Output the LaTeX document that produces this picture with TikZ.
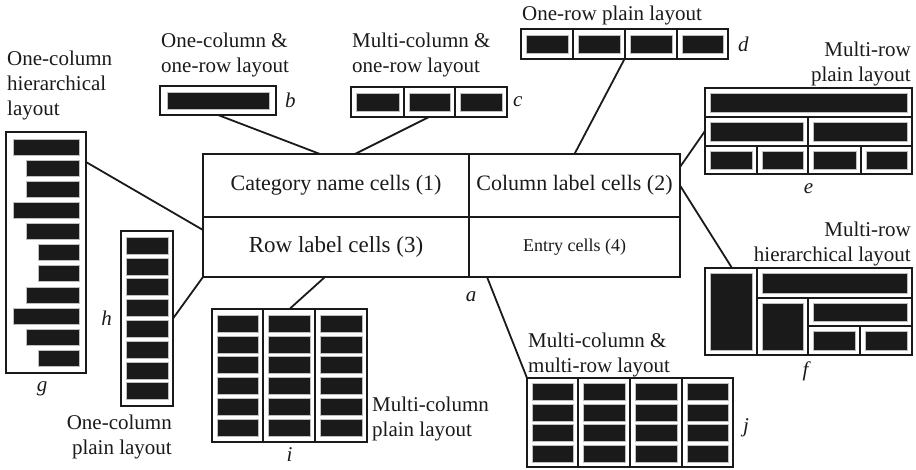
\documentclass[tikz,border=0pt]{standalone}
\usepackage{fontspec}
\setmainfont{Liberation Serif}
\usetikzlibrary{positioning}
\definecolor{Ink}{HTML}{1A1A1A}
\tikzset{
    cell/.style={draw=Ink, line width=1.9pt, inner sep=0pt, outer sep=0pt, align=center, text=Ink},
    frame/.style={draw=Ink, line width=1.9pt, inner sep=0pt, outer sep=0pt, anchor=north west},
    rule/.style={draw=Ink, line width=1.9pt},
    bar/.style={fill=Ink, draw=gray!50, line width=0.5pt},
    link/.style={draw=Ink, line width=1.8pt},
    caption/.style={font=\fontsize{21}{25}\selectfont, align=left, inner sep=1pt, text=Ink},
    tag/.style={font=\fontsize{21}{25}\selectfont\itshape, inner sep=1pt, text=Ink},
}

\begin{document}
\begin{tikzpicture}[x=1pt, y=-1pt]
    \useasboundingbox (0,0) rectangle (916,470);

    % central table (a)
    \node[cell, minimum width=266pt, minimum height=63pt, font=\fontsize{22}{26}\selectfont] (cat) at (336,185.5) {Category name cells (1)};
    \node[cell, minimum width=211pt, minimum height=63pt, font=\fontsize{22}{26}\selectfont] (col) at (574.5,185.5) {Column label cells (2)};
    \node[cell, minimum width=266pt, minimum height=60pt, font=\fontsize{23}{27}\selectfont] (row) at (336,247) {Row label cells (3)};
    \node[cell, minimum width=211pt, minimum height=60pt, font=\fontsize{18}{22}\selectfont] (entry) at (574.5,247) {Entry cells (4)};
    \node[tag, below=13pt of row.south east, xshift=2pt] (a) {a};

    % b: one-column & one-row
    \node[frame, minimum width=116pt, minimum height=29pt] (bbox) at (160,86) {};
    \draw[bar] (167,92) rectangle (269,109);
    \node[tag, right=8pt of bbox] (b) {b};
    \node[caption, above=8pt of bbox.north west, anchor=south west] (bcap) {One-column \&\\one-row layout};

    % c: multi-column & one-row
    \node[frame, minimum width=156pt, minimum height=30pt] (cbox) at (351,87) {};
    \foreach \xa/\xb in {351/404, 404/455, 455/507}
        \draw[bar] (\xa+5,93) rectangle (\xb-5,111);
    \draw[rule] (404,87) -- (404,117) (455,87) -- (455,117);
    \node[tag, right=5pt of cbox] (c) {c};
    \node[caption, above=9pt of cbox.north west, anchor=south west] (ccap) {Multi-column \&\\one-row layout};

    % d: one-row plain
    \node[frame, minimum width=207pt, minimum height=30pt] (dbox) at (521,29) {};
    \foreach \xa/\xb in {521/573, 573/625, 625/677, 677/728}
        \draw[bar] (\xa+5,35) rectangle (\xb-5,53);
    \draw[rule] (573,29) -- (573,59) (625,29) -- (625,59) (677,29) -- (677,59);
    \node[tag, right=9pt of dbox] (d) {d};
    \node[caption, above=3pt of dbox.north west, anchor=south west] (dcap) {One-row plain layout};

    % e: multi-row plain
    \node[frame, minimum width=207pt, minimum height=86pt] (ebox) at (705,88) {};
    \draw[rule] (705,117) -- (912,117) (705,146) -- (912,146);
    \draw[rule] (808,117) -- (808,174) (757,146) -- (757,174) (861,146) -- (861,174);
    \draw[bar] (710,93) rectangle (907,112);
    \foreach \xa/\xb in {705/808, 808/912}
        \draw[bar] (\xa+5,122) rectangle (\xb-5,141);
    \foreach \xa/\xb in {705/757, 757/808, 808/861, 861/912}
        \draw[bar] (\xa+5,151) rectangle (\xb-5,169);
    \node[tag, below=8pt of ebox] (e) {e};
    \node[caption, align=right, above=1pt of ebox.north east, anchor=south east] (ecap) {Multi-row\\plain layout};

    % f: multi-row hierarchical
    \node[frame, minimum width=207pt, minimum height=87pt] (fbox) at (705,268) {};
    \draw[rule] (757,268) -- (757,355) (757,298) -- (912,298) (808,298) -- (808,355)
        (808,326) -- (912,326) (860,326) -- (860,355);
    \draw[bar] (710,273) rectangle (752,350);
    \draw[bar] (762,273) rectangle (907,293);
    \draw[bar] (762,303) rectangle (803,350);
    \draw[bar] (813,303) rectangle (907,321);
    \draw[bar] (813,331) rectangle (855,350);
    \draw[bar] (865,331) rectangle (907,350);
    \node[tag, below=6pt of fbox, xshift=-3pt] (f) {f};
    \node[caption, align=right, above=1pt of fbox.north east, anchor=south east] (fcap) {Multi-row\\hierarchical layout};

    % g: one-column hierarchical
    \node[frame, minimum width=80pt, minimum height=241pt] (gbox) at (6,132) {};
    \foreach \xs/\yt in {13/139, 26/160, 26/181, 13/202, 26/223, 38/244, 38/265, 26/287, 13/308, 26/329, 38/350}
        \draw[bar] (\xs,\yt) rectangle (79,\yt+16);
    \node[tag, below=7pt of gbox, xshift=-4pt] (g) {g};
    \node[caption, above=11pt of gbox.north west, anchor=south west] (gcap) {One-column\\hierarchical\\layout};

    % h: one-column plain
    \node[frame, minimum width=52pt, minimum height=175pt] (hbox) at (121,231) {};
    \foreach \k in {0,...,7}
        \draw[bar] (126,237+20.8*\k) rectangle (168,254+20.8*\k);
    \node[tag, left=8pt of hbox] (h) {h};
    \node[caption, align=right, below=8pt of hbox.south east, anchor=north east] (hcap) {One-column\\plain layout};

    % i: multi-column plain
    \node[frame, minimum width=155pt, minimum height=133pt] (ibox) at (212,309) {};
    \foreach \xa/\xb in {212/263, 263/315, 315/367}
        \foreach \k in {0,...,5}
            \draw[bar] (\xa+5,315+20.8*\k) rectangle (\xb-5,332+20.8*\k);
    \draw[rule] (263,309) -- (263,442) (315,309) -- (315,442);
    \node[tag, below=4pt of ibox] (i) {i};
    \node[caption, right=4pt of ibox.south east, anchor=south west] (icap) {Multi-column\\plain layout};

    % j: multi-column & multi-row
    \node[frame, minimum width=206pt, minimum height=89pt] (jbox) at (527,378) {};
    \foreach \xa/\xb in {527/578, 578/630, 630/682, 682/733}
        \foreach \k in {0,...,3}
            \draw[bar] (\xa+5,383+20.8*\k) rectangle (\xb-5,400+20.8*\k);
    \draw[rule] (578,378) -- (578,467) (630,378) -- (630,467) (682,378) -- (682,467);
    \node[tag, right=9pt of jbox, yshift=-5pt] (j) {j};
    \node[caption, above=0pt of jbox.north west, anchor=south west] (jcap) {Multi-column \&\\multi-row layout};

    % connectors
    \draw[link] (bbox.south) -- ([xshift=117pt]cat.north west);
    \draw[link] (cbox.south) -- ([xshift=152pt]cat.north west);
    \draw[link] (dbox.south) -- (col.north);
    \draw[link] ([yshift=-13pt]col.north east) -- (ebox.west);
    \draw[link] (col.east) -- ([xshift=27pt]fbox.north west);
    \draw[link] ([yshift=-30pt]gbox.north east) -- ([yshift=-13pt]row.north west);
    \draw[link] (hbox.east) -- (row.south west);
    \draw[link] (ibox.north) -- ([xshift=122pt]row.south west);
    \draw[link] ([xshift=18pt]entry.south west) -- (jbox.north west);
\end{tikzpicture}
\end{document}
